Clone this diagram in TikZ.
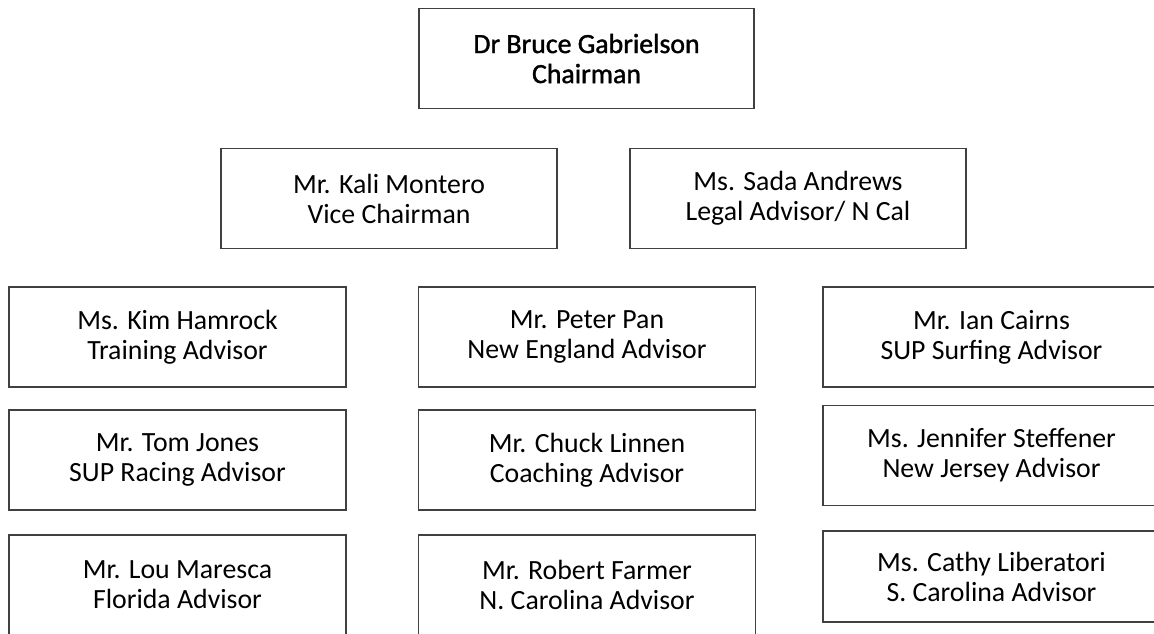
\documentclass[tikz,border=0pt]{standalone}
\usepackage{fontspec}
\setmainfont{Carlito}
\newfontfamily\headfont[FakeBold=1.4]{Carlito}
\usepackage{tikz}
\usetikzlibrary{positioning}

\tikzset{
	member/.style={draw=black!75, line width=0.7pt, minimum width=168.5pt,
		minimum height=50pt, align=center, inner sep=0pt,
		font=\fontsize{13.9}{15}\selectfont},
	chairbox/.style={member, minimum width=167.5pt,
		font=\headfont\fontsize{13.9}{15}\selectfont},
	rightmember/.style={member, minimum width=168.5pt}
}

\begin{document}
\begin{tikzpicture}[x=0.5pt,y=-0.5pt]
	\useasboundingbox (0,0) rectangle (1154,633);
	\clip (0,0) rectangle (1154,633);
	% chairman
	\node[chairbox] (chair) at (586.5,58.5) {Dr Bruce Gabrielson\\Chairman};
	% second row
	\node[member, minimum width=168pt] (vice) at (389,198.5) {Mr. Kali Montero\\Vice Chairman};
	\node[member, minimum width=168pt] (legal) at (798,198.5) {Ms. Sada Andrews\\Legal Advisor/ N Cal};
	% advisors, left column
	\node[member] (hamrock) at (177.5,337) {Ms. Kim Hamrock\\Training Advisor};
	\node[member] (jones) at (177.5,460) {Mr. Tom Jones\\SUP Racing Advisor};
	\node[member] (maresca) at (177.5,585) {Mr. Lou Maresca\\Florida Advisor};
	% middle column
	\node[member] (pan) at (587,337) {Mr. Peter Pan\\New England Advisor};
	\node[member] (linnen) at (587,460) {Mr. Chuck Linnen\\Coaching Advisor};
	\node[member] (farmer) at (587,585) {Mr. Robert Farmer\\N. Carolina Advisor};
	% right column
	\node[rightmember] (cairns) at (991.5,337) {Mr. Ian Cairns\\SUP Surfing Advisor};
	\node[rightmember] (steffener) at (991.5,455.5) {Ms. Jennifer Steffener\\New Jersey Advisor};
	\node[rightmember, minimum height=45.5pt] (liberatori) at (991.5,576.5) {Ms. Cathy Liberatori\\S. Carolina Advisor};
\end{tikzpicture}
\end{document}
